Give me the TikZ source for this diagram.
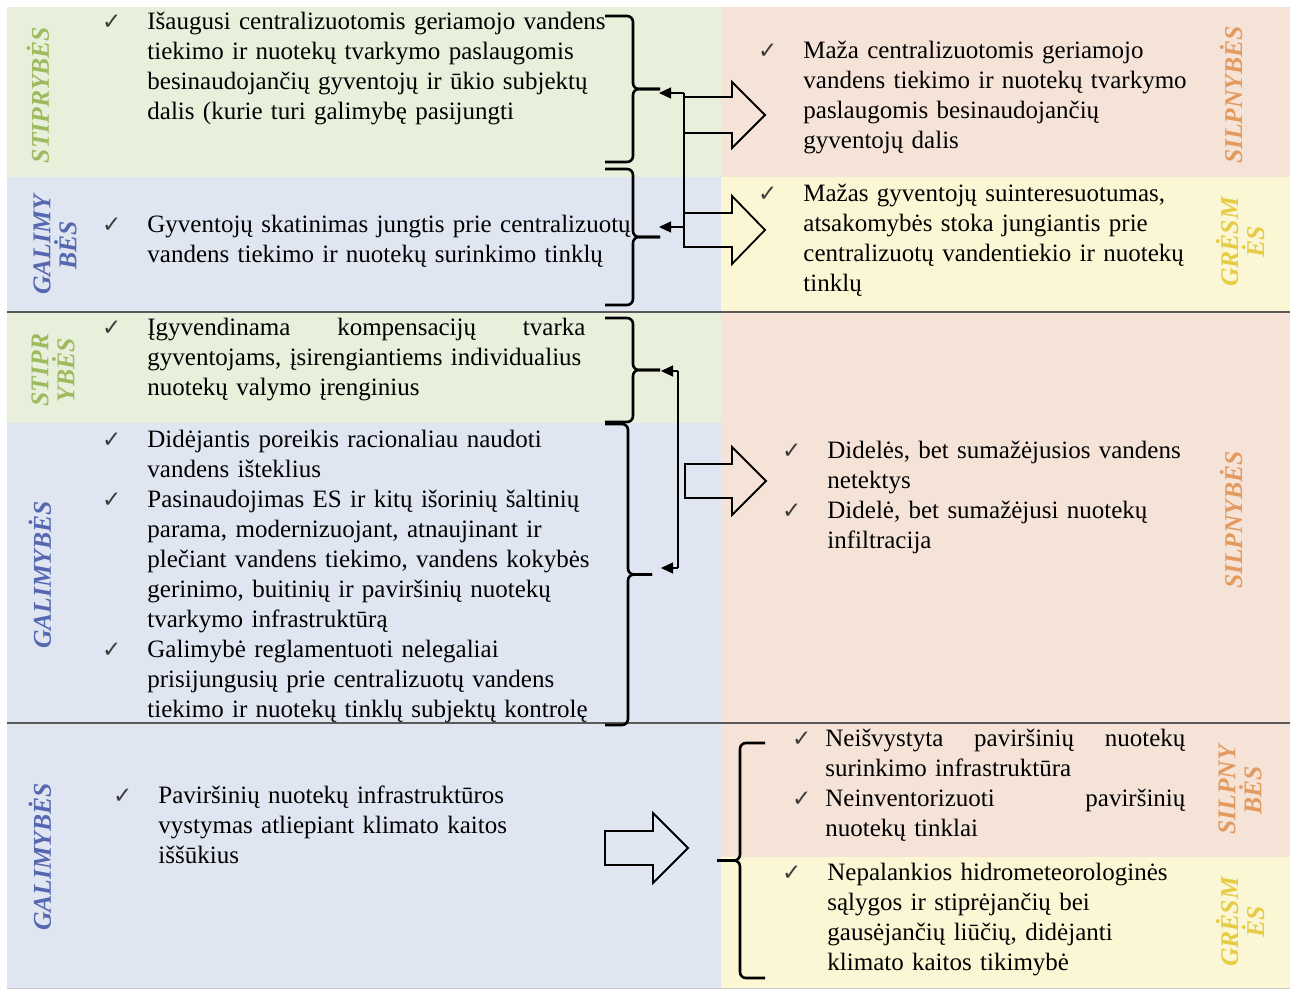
\documentclass[tikz,border=0pt]{standalone}
\usepackage{fontspec}
\setmainfont{Liberation Serif}
\newfontfamily\tickfont{DejaVu Sans}
\usepackage{tikz}
\usetikzlibrary{arrows.meta,positioning,calc}
\usepackage{xcolor}
\definecolor{stgreen}{HTML}{E8EFDB}
\definecolor{gablue}{HTML}{DFE5F1}
\definecolor{sipeach}{HTML}{F6E3D8}
\definecolor{gryellow}{HTML}{FBF6D4}
\definecolor{stgreenT}{HTML}{9DBB5E}
\definecolor{gablueT}{HTML}{5567B0}
\definecolor{sipeachT}{HTML}{E39A5E}
\definecolor{gryellowT}{HTML}{E6CB45}
\definecolor{tickgray}{HTML}{3C3C3C}
\definecolor{sepgray}{HTML}{5A5A5A}
\newcommand{\chk}[1][13pt]{\leavevmode\llap{{\tickfont\fontsize{11.5pt}{11.5pt}\selectfont\color{tickgray}✓}\hspace{#1}}}
\newcommand{\brackt}[5]{%
  \draw[bracket] (#1,#4) -| (#2,{(#4+#5)/2}) -- (#3,{(#4+#5)/2});
  \draw[bracket] (#1,#5) -| (#2,{(#4+#5)/2}) -- (#3,{(#4+#5)/2});}
\newcommand{\blockarrow}[6]{%
  \draw[blockarr] (#1,{#4-#5}) -- (#2,{#4-#5}) -- (#2,{#4-#6}) -- (#3,#4)
    -- (#2,{#4+#6}) -- (#2,{#4+#5}) -- (#1,{#4+#5}) -- cycle;}

\begin{document}
\begin{tikzpicture}[x=0.5pt,y=-0.5pt,
  txt/.style={anchor=base west, inner sep=0pt, align=left, text width=#1,
              font={\fontsize{12.5pt}{15pt}\selectfont\hyphenpenalty=10000\relax}},
  txt/.default=250pt,
  lab/.style={rotate=90, inner sep=0pt, align=center,
              font=\fontsize{12.8pt}{13pt}\selectfont\bfseries\itshape},
  bracket/.style={line width=1.3pt, rounded corners=3pt},
  link/.style={line width=0.6pt},
  tip/.style={link, -{Triangle[length=6pt,width=5.5pt]}},
  blockarr/.style={line width=0.9pt, line join=miter},
  sepline/.style={line width=1.2pt, draw=sepgray}]
\useasboundingbox[fill=white] (0,0) rectangle (1296,990);

\fill[stgreen] (7,7) rectangle (721,177);
\fill[gablue] (7,177) rectangle (721,312);
\fill[sipeach] (721,7) rectangle (1290,177);
\fill[gryellow] (721,177) rectangle (1290,312);
\fill[stgreen] (7,312) rectangle (721,423);
\fill[gablue] (7,423) rectangle (721,723);
\fill[sipeach] (721,312) rectangle (1290,723);
\fill[gablue] (7,723) rectangle (721,988);
\fill[sipeach] (721,723) rectangle (1290,857);
\fill[gryellow] (721,857) rectangle (1290,988);
\draw[sepline] (7,312) -- (1290,312);
\draw[sepline] (7,723) -- (1290,723);
\draw[black!20, line width=0.5pt] (7,988) -- (1290,988);

\node[lab, text=stgreenT] (lS1) at (38,95) {STIPRYBĖS};
\node[lab, text=gablueT] (lG1) at (55,245) {GALIMY\\BĖS};
\node[lab, text=sipeachT] (lW1) at (1231,95) {SILPNYBĖS};
\node[lab, text=gryellowT] (lT1) at (1240,242) {GRĖSM\\ĖS};
\node[lab, text=stgreenT] (lS2) at (53,370) {STIPR\\YBĖS};
\node[lab, text=gablueT] (lG2) at (40,575) {GALIMYBĖS};
\node[lab, text=sipeachT] (lW2) at (1231,520) {SILPNYBĖS};
\node[lab, text=gablueT] (lG3) at (40,857) {GALIMYBĖS};
\node[lab, text=sipeachT] (lW3) at (1240,790) {SILPNY\\BĖS};
\node[lab, text=gryellowT] (lT3) at (1240,922) {GRĖSM\\ĖS};

\node[txt] (s1) at (147,30) {\chk Išaugusi centralizuotomis geriamojo vandens\\
  tiekimo ir nuotekų tvarkymo paslaugomis\\
  besinaudojančių gyventojų ir ūkio subjektų\\
  dalis (kurie turi galimybę pasijungti};
\node[txt] (g1) at (147,232) {\chk Gyventojų skatinimas jungtis prie centralizuotų\\
  vandens tiekimo ir nuotekų surinkimo tinklų};
\node[txt] (w1) at (803,59) {\chk Maža centralizuotomis geriamojo\\
  vandens tiekimo ir nuotekų tvarkymo\\
  paslaugomis besinaudojančių\\
  gyventojų dalis};
\node[txt] (t1) at (803,201) {\chk Mažas gyventojų suinteresuotumas,\\
  atsakomybės stoka jungiantis prie\\
  centralizuotų vandentiekio ir nuotekų\\
  tinklų};

\node[txt=219pt] (s2) at (147,335) {\chk Įgyvendinama \hfill kompensacijų \hfill tvarka\\
  gyventojams, įsirengiantiems individualius\\
  nuotekų valymo įrenginius};
\node[txt] (g2) at (147,447) {\chk Didėjantis poreikis racionaliau naudoti\\
  vandens išteklius\\
  \chk Pasinaudojimas ES ir kitų išorinių šaltinių\\
  parama, modernizuojant, atnaujinant ir\\
  plečiant vandens tiekimo, vandens kokybės\\
  gerinimo, buitinių ir paviršinių nuotekų\\
  tvarkymo infrastruktūrą\\
  \chk Galimybė reglamentuoti nelegaliai\\
  prisijungusių prie centralizuotų vandens\\
  tiekimo ir nuotekų tinklų subjektų kontrolę};
\node[txt] (w2) at (827,458) {\chk Didelės, bet sumažėjusios vandens\\
  netektys\\
  \chk Didelė, bet sumažėjusi nuotekų\\
  infiltracija};

\node[txt] (g3) at (158,803) {\chk Paviršinių nuotekų infrastruktūros\\
  vystymas atliepiant klimato kaitos\\
  iššūkius};
\node[txt=180pt] (w3) at (825,746) {\chk[7pt]Neišvystyta \hfill paviršinių \hfill nuotekų\\
  surinkimo infrastruktūra\\
  \chk[7pt]Neinventorizuoti \hfill paviršinių\\
  nuotekų tinklai};
\node[txt] (t3) at (827,880) {\chk Nepalankios hidrometeorologinės\\
  sąlygos ir stiprėjančių bei\\
  gausėjančių liūčių, didėjanti\\
  klimato kaitos tikimybė};

\brackt{605}{633}{660}{16}{162}
\brackt{605}{633}{660}{169}{305}
\brackt{605}{633}{660}{318}{422}
\brackt{605}{628}{652}{424}{725}
\brackt{765}{740}{717}{743}{978}

\coordinate (j1) at (684,93);
\coordinate (j2) at (684,227);
\coordinate (j3) at (684,248);
\coordinate (b1) at (659,89);
\coordinate (j4) at (678,371);
\coordinate (j5) at (678,568);
\coordinate (b3) at (661,370);
\draw[link] (j1) -- (j3);
\draw[tip] (j1) -- (j1 -| b1);
\draw[tip] (j2) -- (j2 -| b1);
\draw[link] (j4) -- (j5);
\draw[tip] (j4) -- (j4 -| b3);
\draw[tip] (j5) -- (j5 -| b3);

\blockarrow{684}{732}{765}{115}{18}{33}
\blockarrow{684}{732}{765}{230}{17}{34}
\blockarrow{685}{732}{766}{481}{17}{34}
\blockarrow{605}{653}{688}{848}{17}{35}
\end{tikzpicture}
\end{document}
